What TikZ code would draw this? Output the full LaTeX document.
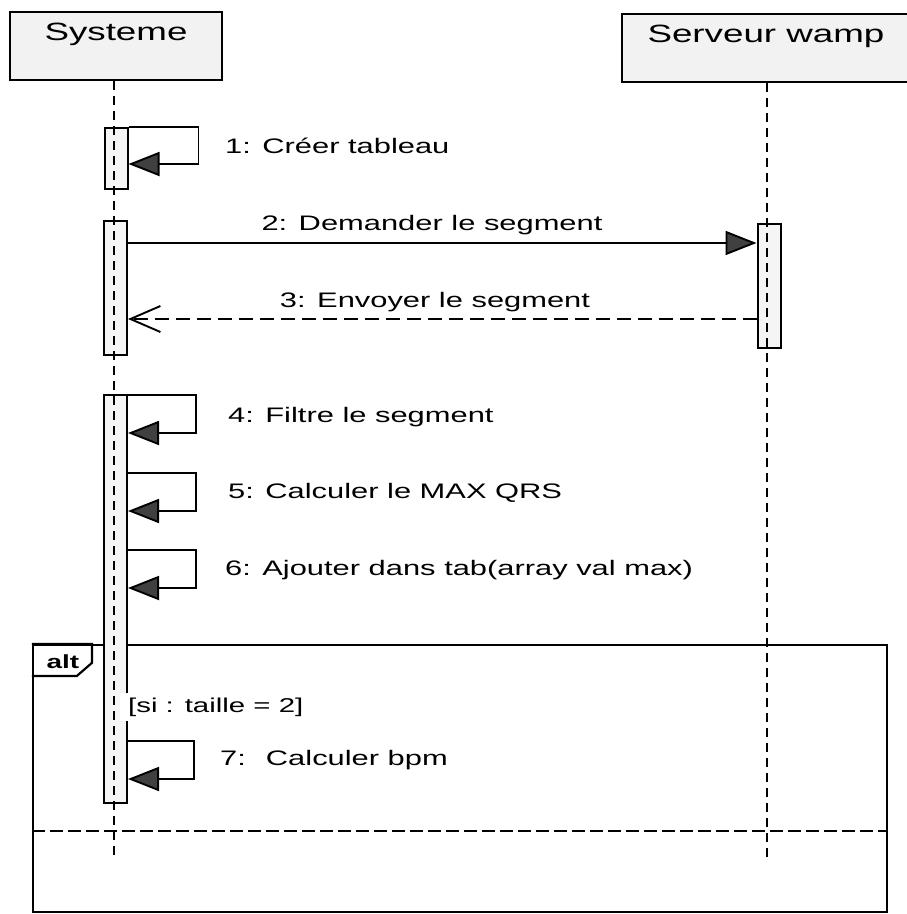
\documentclass[tikz,border=0pt]{standalone}
\usepackage{fontspec}
\newfontfamily\umlfont{Liberation Sans}[FakeStretch=1.47]
\usetikzlibrary{arrows.meta,positioning}

\begin{document}
\begin{tikzpicture}[x=1pt,y=-1pt]
\tikzset{
  headbox/.style={rectangle,draw=black,fill=black!5,line width=2pt,minimum height=68pt,inner sep=0pt},
  headtext/.style={font=\umlfont\fontsize{25}{30}\selectfont,anchor=base,inner sep=0pt},
  actbox/.style={rectangle,draw=black,fill=black!4,line width=2pt,minimum width=23pt,inner sep=0pt},
  lifeline/.style={draw=black,line width=2.6pt,dash pattern=on 9pt off 6pt},
  msgtext/.style={font=\umlfont\fontsize{21}{25}\selectfont,anchor=base west,inner sep=0pt},
  selfmsg/.style={draw=black,line width=1.9pt,-{Triangle[length=31pt,width=24pt,fill=black!75]}},
  syncmsg/.style={selfmsg},
  replymsg/.style={draw=black,line width=1.9pt,dash pattern=on 14pt off 7pt,-{Straight Barb[length=30pt,width=26pt]}},
  altframe/.style={rectangle,draw=black,line width=2.2pt,minimum width=854pt,minimum height=267pt,inner sep=0pt},
  alttext/.style={font=\umlfont\bfseries\fontsize{19}{22}\selectfont,anchor=base,inner sep=0pt},
  guardtext/.style={font=\umlfont\fontsize{20}{24}\selectfont,anchor=base west,fill=white,inner xsep=8pt,inner ysep=5pt}
}
\clip (0,0) rectangle (907,914);
% combined fragment
\node[altframe] (alt) at (460,778.5) {};
\draw[line width=2.2pt] (alt.north west) -- ++(60,0) -- ++(0,19) -- ++(-15,13) -- ++(-45,0);
\node[alttext] (alttag) at (63,668) {alt};
\draw[draw=black,line width=2pt,dash pattern=on 13pt off 5pt] ([yshift=-187pt]alt.north west) -- ([yshift=-187pt]alt.north east);
% participants
\node[headbox,minimum width=212pt] (sys) at (116,46) {};
\node[headtext] (systxt) at (116,40) {Systeme};
\node[headbox,minimum width=290pt] (srv) at (767,48) {};
\node[headtext] (srvtxt) at (766,42) {Serveur wamp};
% activations
\node[actbox,minimum height=61pt] (a1) at (116,158.5) {};
\node[actbox,minimum height=134pt] (a2) at (115.5,288) {};
\node[actbox,minimum height=408pt] (a3) at (115.5,599) {};
\node[actbox,minimum height=124pt] (b1) at (769,286) {};
% lifelines
\coordinate (sysend) at (114,856);
\coordinate (srvend) at (767,858);
\draw[lifeline] (sys.south -| sysend) -- (sysend);
\draw[lifeline] (srv.south) -- (srvend);
\node[guardtext] (guard) at (120,712) {[si : taille = 2]};
% messages
\draw[selfmsg] (a1.north east) -- ++(70,0) -- ++(0,37) -- ++(-70,0);
\node[msgtext] (t1) at (225,153) {1: Créer tableau};
\draw[syncmsg] ([yshift=-23pt]a2.north east) -- ([yshift=-20pt]b1.north west);
\node[msgtext,anchor=base] (t2) at (432,230) {2: Demander le segment};
\draw[replymsg] ([yshift=-96pt]b1.north west) -- ([yshift=-99pt]a2.north east);
\node[msgtext,anchor=base] (t3) at (435,307) {3: Envoyer le segment};
\draw[selfmsg] ([yshift=-1pt]a3.north east) -- ++(68,0) -- ++(0,38) -- ++(-68,0);
\node[msgtext] (t4) at (228,422) {4: Filtre le segment};
\draw[selfmsg] ([yshift=-79pt]a3.north east) -- ++(68,0) -- ++(0,38) -- ++(-68,0);
\node[msgtext] (t5) at (228,498) {5: Calculer le MAX QRS};
\draw[selfmsg] ([yshift=-156pt]a3.north east) -- ++(68,0) -- ++(0,38) -- ++(-68,0);
\node[msgtext] (t6) at (225,575) {6: Ajouter dans tab(array val max)};
\draw[selfmsg] ([yshift=-347pt]a3.north east) -- ++(66,0) -- ++(0,38) -- ++(-66,0);
\node[msgtext] (t7) at (220,765) {7:~ Calculer bpm};
\end{tikzpicture}
\end{document}
